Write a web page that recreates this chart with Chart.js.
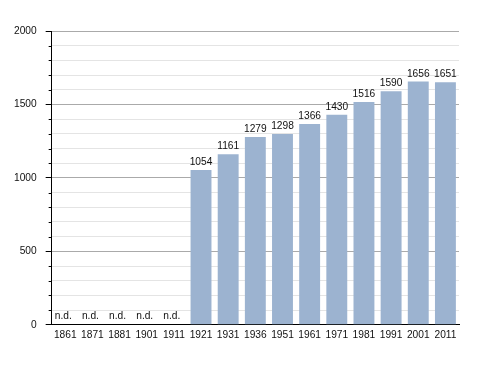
<!DOCTYPE html>
<html>
<head>
<meta charset="utf-8">
<script src="https://cdn.jsdelivr.net/npm/chart.js@4"></script>
<style>
  html, body { margin: 0; padding: 0; background: #fff; }
  canvas { display: block; }
</style>
</head>
<body>
<canvas id="chart" width="488" height="373"></canvas>
<script>
const years = ['1861', '1871', '1881', '1901', '1911', '1921', '1931', '1936', '1951', '1961', '1971', '1981', '1991', '2001', '2011'];
const population = [null, null, null, null, null, 1054, 1161, 1279, 1298, 1366, 1430, 1516, 1590, 1656, 1651];
const yTicks = [0, 500, 1000, 1500, 2000];

const FONT = '"Liberation Sans", Arial, sans-serif';

// value labels above bars, "n.d." where there is no data
const barLabels = {
  id: 'barLabels',
  afterDatasetsDraw(chart) {
    const ctx = chart.ctx;
    const meta = chart.getDatasetMeta(0);
    const y = chart.scales.y;
    ctx.save();
    ctx.font = '10.2px ' + FONT;
    ctx.fillStyle = '#111';
    ctx.textAlign = 'center';
    ctx.textBaseline = 'alphabetic';
    meta.data.forEach((bar, i) => {
      const v = population[i];
      if (v == null) {
        ctx.fillText('n.d.', bar.x - 2, y.getPixelForValue(0) - 6);
      } else {
        ctx.fillText(String(v), bar.x, bar.y - 5);
      }
    });
    ctx.restore();
  }
};

// short minor ticks every 100 on the y axis
const minorTicks = {
  id: 'minorTicks',
  afterDraw(chart) {
    const ctx = chart.ctx;
    const y = chart.scales.y;
    const left = chart.chartArea.left;
    ctx.save();
    ctx.strokeStyle = '#000';
    ctx.lineWidth = 1;
    for (let v = 0; v <= 2000; v += 100) {
      if (yTicks.includes(v)) continue;
      const py = Math.round(y.getPixelForValue(v)) + 0.5;
      ctx.beginPath();
      ctx.moveTo(left - 3, py);
      ctx.lineTo(left, py);
      ctx.stroke();
    }
    ctx.restore();
  }
};

new Chart(document.getElementById('chart'), {
  type: 'bar',
  data: {
    labels: years,
    datasets: [{
      data: population,
      backgroundColor: '#9cb3d0',
      borderWidth: 0,
      barPercentage: 0.77,
      categoryPercentage: 1
    }]
  },
  options: {
    responsive: false,
    animation: false,
    devicePixelRatio: 1,
    layout: { padding: { left: 5, right: 29, top: 31, bottom: 28 } },
    plugins: { legend: { display: false }, tooltip: { enabled: false } },
    scales: {
      x: {
        grid: { display: false, drawTicks: false },
        border: { color: '#000', width: 1 },
        ticks: { color: '#111', font: { family: FONT, size: 10.2 }, padding: 4, maxRotation: 0, autoSkip: false }
      },
      y: {
        min: 0,
        max: 2000,
        border: { color: '#000', width: 1 },
        grid: {
          color: c => (c.tick && c.tick.value % 500 === 0) ? '#aaaaaa' : '#e4e4e4',
          tickColor: c => (c.tick && c.tick.value % 500 === 0) ? '#000' : 'rgba(0,0,0,0)',
          tickLength: 6,
          lineWidth: 1
        },
        ticks: {
          stepSize: 100,
          autoSkip: false,
          color: '#111',
          padding: 9,
          font: { family: FONT, size: 10.2 },
          callback: v => yTicks.includes(v) ? String(v) : ''
        }
      }
    }
  },
  plugins: [barLabels, minorTicks]
});
</script>
</body>
</html>
